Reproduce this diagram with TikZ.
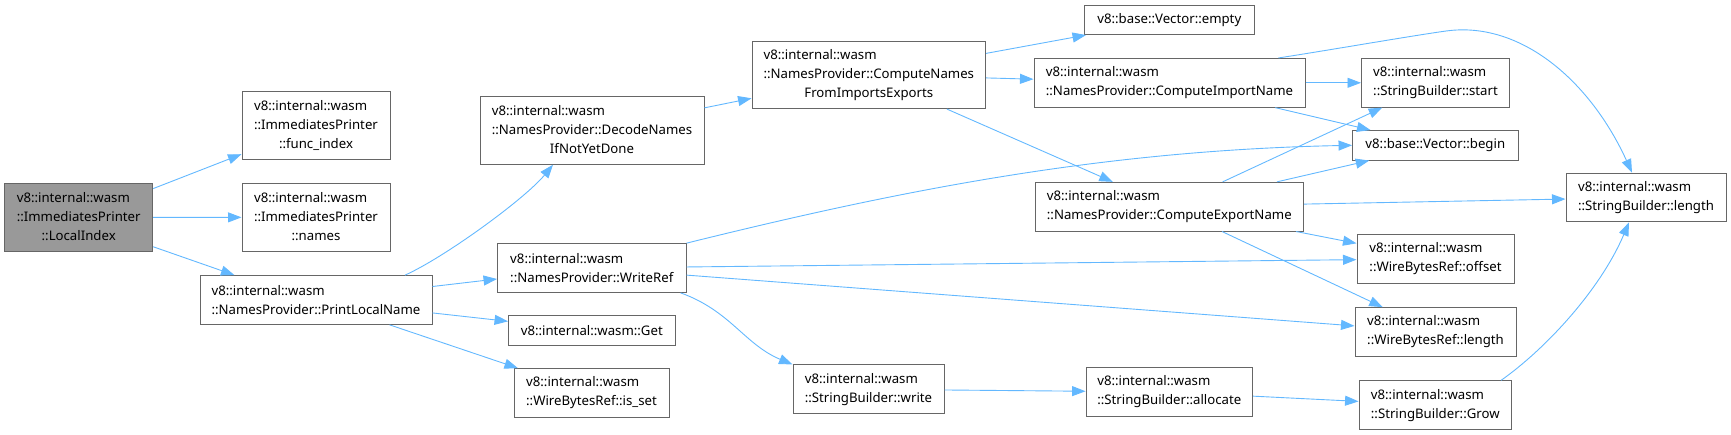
\documentclass[tikz,border=0pt]{standalone}
\usepackage{fontspec}
\setmainfont{Noto Sans}
\usetikzlibrary{arrows.meta,calc}
\usepackage{xcolor}
\definecolor{edgeblue}{HTML}{63B8FF}
\definecolor{boxgray}{HTML}{666666}
\definecolor{rootgray}{HTML}{999999}
\newcommand{\stacked}[3]{\begin{tabular}{@{}l@{}}#1\\#2\\\multicolumn{1}{@{}c@{}}{#3}\end{tabular}}

\begin{document}
\begin{tikzpicture}[x=1pt, y=-1pt]
\tikzstyle{fn} = [rectangle, draw=boxgray, fill=white, line width=1pt, inner xsep=10pt, inner ysep=0pt, align=left, font=\fontsize{13.2}{19}\selectfont];
\tikzstyle{root} = [fn, fill=rootgray];
\tikzstyle{oneline} = [minimum height=29.5pt];
\tikzstyle{twoline} = [minimum height=48.7pt];
\tikzstyle{threeline} = [minimum height=67.5pt];
\tikzstyle{call} = [draw=edgeblue, line width=0.9pt, -{Triangle[length=13.5pt,width=10pt]}];

\useasboundingbox (0,0) rectangle (1731,435);

% caller
\node (li) [root, threeline, minimum width=148pt] at (78.7,217.5) {\stacked{v8::internal::wasm}{::ImmediatesPrinter}{::LocalIndex}};

% first level
\node (fidx) [fn, threeline, minimum width=148pt] at (316,125.3) {\stacked{v8::internal::wasm}{::ImmediatesPrinter}{::func\_index}};
\node (nms) [fn, threeline, minimum width=148pt] at (316,217.3) {\stacked{v8::internal::wasm}{::ImmediatesPrinter}{::names}};
\node (pln) [fn, twoline, minimum width=232pt] at (316,300) {v8::internal::wasm\\::NamesProvider::PrintLocalName};

% second level
\node (dec) [fn, threeline, minimum width=224pt] at (592,130.5) {\stacked{v8::internal::wasm}{::NamesProvider::DecodeNames}{IfNotYetDone}};
\node (wref) [fn, twoline, minimum width=188.5pt] at (591.8,268) {v8::internal::wasm\\::NamesProvider::WriteRef};
\node (get) [fn, oneline, minimum width=166.5pt] at (591.8,330.6) {v8::internal::wasm::Get};
\node (isset) [fn, twoline, minimum width=155pt] at (591.5,393) {v8::internal::wasm\\::WireBytesRef::is\_set};

% third level
\node (cnames) [fn, threeline, minimum width=233.5pt] at (868.8,74.8) {\stacked{v8::internal::wasm}{::NamesProvider::ComputeNames}{FromImportsExports}};
\node (wrt) [fn, twoline, minimum width=151pt] at (868.5,389.3) {v8::internal::wasm\\::StringBuilder::write};

% fourth level
\node (empty) [fn, oneline, minimum width=170.5pt] at (1169.3,19.8) {v8::base::Vector::empty};
\node (cimp) [fn, twoline, minimum width=271pt] at (1169.5,82.8) {v8::internal::wasm\\::NamesProvider::ComputeImportName};
\node (cexp) [fn, twoline, minimum width=268.5pt] at (1169.3,206.7) {v8::internal::wasm\\::NamesProvider::ComputeExportName};
\node (alloc) [fn, twoline, minimum width=166.5pt] at (1169.3,392) {v8::internal::wasm\\::StringBuilder::allocate};

% fifth level
\node (start) [fn, twoline, minimum width=148pt] at (1435.5,82.8) {v8::internal::wasm\\::StringBuilder::start};
\node (begin) [fn, oneline, minimum width=165.5pt] at (1435.3,145.3) {v8::base::Vector::begin};
\node (offs) [fn, twoline, minimum width=157pt] at (1435.5,258.8) {v8::internal::wasm\\::WireBytesRef::offset};
\node (wlen) [fn, twoline, minimum width=161pt] at (1435.5,332) {v8::internal::wasm\\::WireBytesRef::length};
\node (grow) [fn, twoline, minimum width=152.5pt] at (1435.3,405.2) {v8::internal::wasm\\::StringBuilder::Grow};

% last level
\node (slen) [fn, twoline, minimum width=160pt] at (1646,197.5) {v8::internal::wasm\\::StringBuilder::length};

% calls
\draw [call] (li) -- (fidx);
\draw [call] (li) -- (nms);
\draw [call] ($(li.south east)+(0,-5)$) -- ($(pln.north west)+(35,0)$);
\draw [call] ($(pln.north)+(89,0)$) .. controls +(40,-18) and +(-28,34) .. ($(dec.south)+(-39,0)$);
\draw [call] (pln) -- (wref);
\draw [call] (pln) -- (get);
\draw [call] (pln) -- (isset);
\draw [call] (dec) -- (cnames);
\draw [call] (cnames) -- (empty);
\draw [call] (cnames) -- (cimp);
\draw [call] (cnames) -- (cexp);
\draw [call] ($(cimp.north east)+(-27,0)$) .. controls +(52,-8) and +(-36,5) .. ++(168,-27) .. controls +(74,-10) and +(-42,-92) .. ($(slen.north)+(-14,0)$);
\draw [call] (cimp) -- (start);
\draw [call] (cimp) -- (begin);
\draw [call] (cexp) -- (start);
\draw [call] (cexp) -- (begin);
\draw [call] (cexp) -- (slen);
\draw [call] (cexp) -- (offs);
\draw [call] (cexp) -- (wlen);
\draw [call] (wref.north east) .. controls +(214,-53) and +(-250,5) .. (begin.west);
\draw [call] (wref) -- (offs);
\draw [call] (wref) -- (wlen);
\draw [call] ($(wref.south east)+(-6,0)$) .. controls +(50,18) and +(-48,-20) .. (wrt.north west);
\draw [call] (wrt) -- (alloc);
\draw [call] (alloc) -- (grow);
\draw [call] ($(grow.north east)+(-11,0)$) .. controls +(44,-31) and +(-29,68) .. ($(slen.south)+(-17,0)$);
\end{tikzpicture}
\end{document}
